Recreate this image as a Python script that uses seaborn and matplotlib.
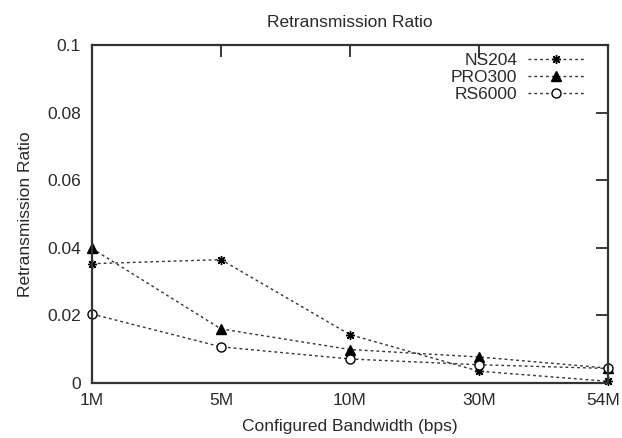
import matplotlib
matplotlib.use("Agg")
import matplotlib.pyplot as plt
import matplotlib.transforms as mtransforms
import seaborn as sns
import pandas as pd

# Retransmission ratio per configured bandwidth for three access points
bandwidths = ["1M", "5M", "10M", "30M", "54M"]
ns204 = [0.0353, 0.0365, 0.0143, 0.0035, 0.0005]
pro300 = [0.0398, 0.016, 0.0099, 0.0077, 0.0044]
rs6000 = [0.0204, 0.0107, 0.0071, 0.0054, 0.0043]

series = {"NS204": ns204, "PRO300": pro300, "RS6000": rs6000}
rows = []
for name, vals in series.items():
    for i, (bw, v) in enumerate(zip(bandwidths, vals)):
        rows.append({"pos": i, "bandwidth": bw, "device": name, "ratio": v})
df = pd.DataFrame(rows)

sns.set_style("white")
plt.rcParams["font.family"] = ["Liberation Sans", "DejaVu Sans"]

FS = 12.5
INK = "#2a2a2a"

fig = plt.figure(figsize=(6.22, 4.38), dpi=100)
ax = fig.add_axes([92 / 622, 1 - 383 / 438, 516 / 622, 338 / 438])

markers = {"NS204": (8, 2, 0), "PRO300": "^", "RS6000": "o"}
faces = {"NS204": "black", "PRO300": "black", "RS6000": "white"}
for name in series:
    sub = df[df["device"] == name]
    sns.lineplot(data=sub, x="pos", y="ratio", ax=ax, color="#333333",
                 linestyle=(0, (2, 2.2)), linewidth=1.0, marker=markers[name],
                 markersize=6.5, markerfacecolor=faces[name],
                 markeredgecolor="black", markeredgewidth=1.0, label=name,
                 clip_on=False)

ax.set_xlim(0, 4)
ax.set_ylim(0, 0.1)
ax.set_xticks(range(len(bandwidths)))
ax.set_xticklabels(bandwidths)
ax.set_yticks([0, 0.02, 0.04, 0.06, 0.08, 0.1])
ax.set_yticklabels(["0", "0.02", "0.04", "0.06", "0.08", "0.1"])
ax.tick_params(direction="in", length=8.5, width=1.3, top=True, right=True,
               labelsize=FS, colors=INK, pad=8)
ax.tick_params(axis="x", pad=7)
for sp in ax.spines.values():
    sp.set_linewidth(1.6)
    sp.set_color("#333333")

# keep the last bandwidth label inside the figure edge
last = ax.get_xticklabels()[-1]
last.set_transform(last.get_transform() +
                   mtransforms.ScaledTranslation(-5 / 100, 0, fig.dpi_scale_trans))

ax.set_title("Retransmission Ratio", fontsize=FS, pad=13, color=INK)
ax.set_xlabel("Configured Bandwidth (bps)", fontsize=FS, labelpad=8, color=INK)
ax.set_ylabel("Retransmission Ratio", fontsize=FS, labelpad=10, color=INK)

leg = ax.legend(loc="upper right", bbox_to_anchor=(0.969, 0.996),
                frameon=False, markerfirst=False, fontsize=FS,
                handlelength=3.3, labelspacing=0.1, borderaxespad=0.0,
                handletextpad=0.6)
for t in leg.get_texts():
    t.set_color(INK)

fig.savefig("out.png", dpi=100)
